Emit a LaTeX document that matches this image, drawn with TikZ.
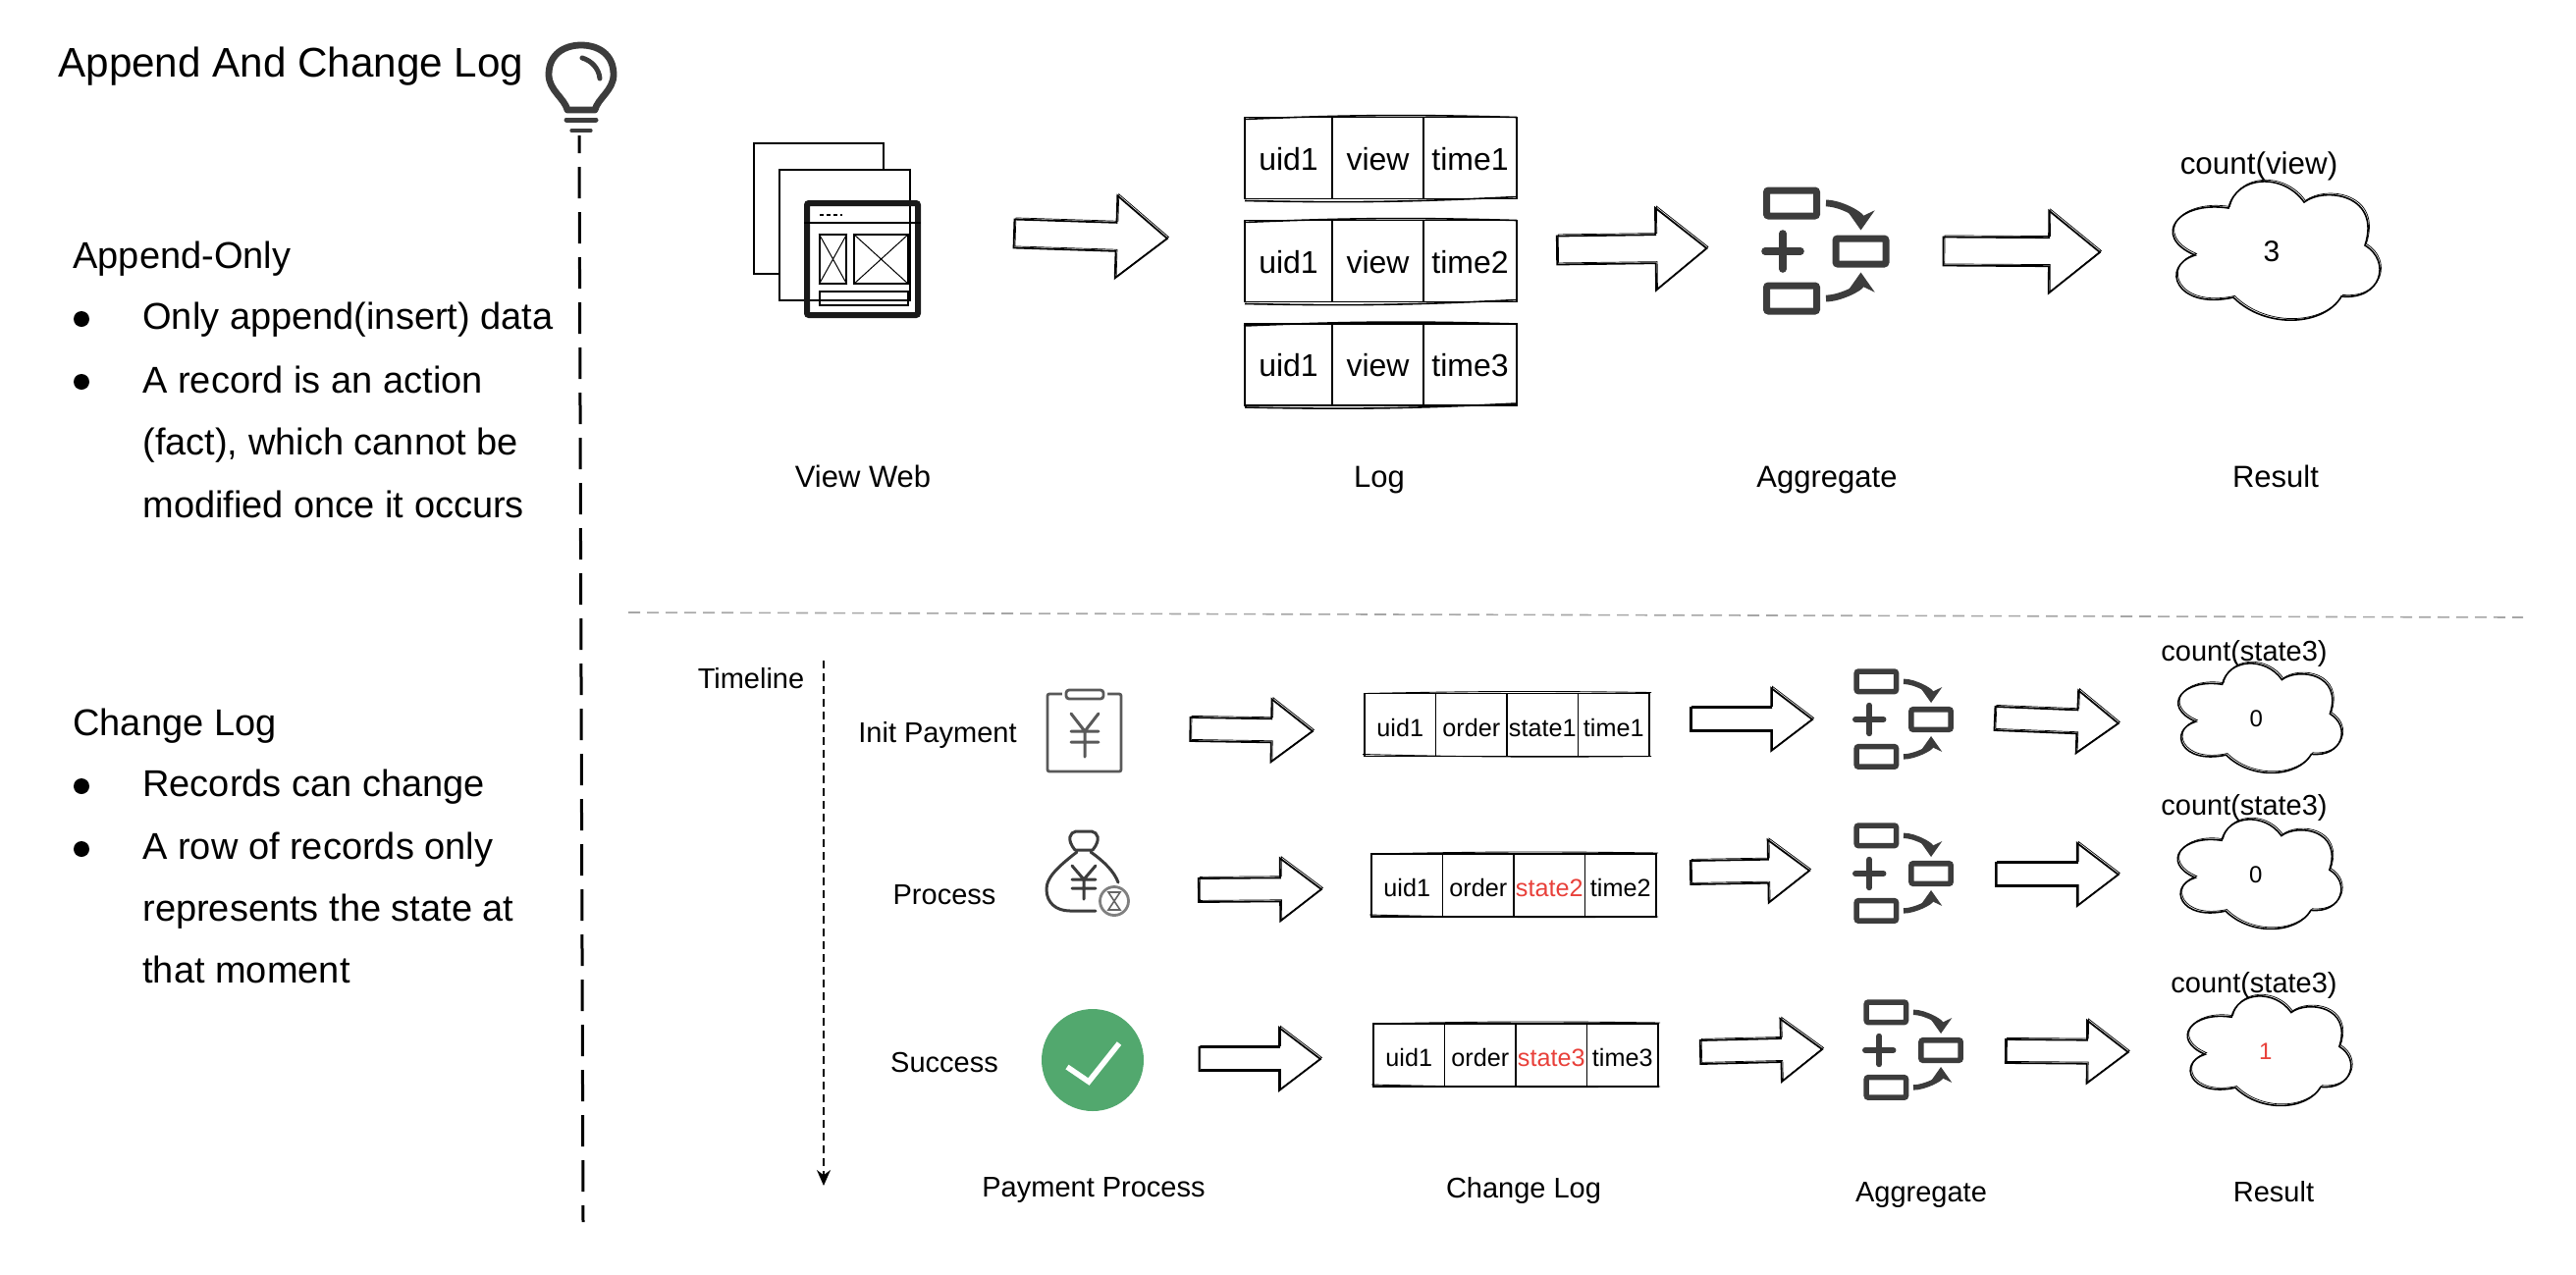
\documentclass[tikz,border=0pt]{standalone}
\usepackage{fontspec}
\usepackage{xcolor}
\setmainfont{Liberation Sans}
\usetikzlibrary{arrows.meta,calc,positioning}
\definecolor{iconink}{HTML}{3C3C3C}
\definecolor{statered}{HTML}{E8403A}
\definecolor{okgreen}{HTML}{52A86E}

\begin{document}
\begin{tikzpicture}[
            x=0.5pt, y=-0.5pt,
            title/.style={anchor=base west, inner sep=0pt, font=\fontsize{21.1}{25}\selectfont},
            bodytext/.style={anchor=base west, inner sep=0pt, font=\fontsize{19}{23}\selectfont},
            dotmark/.style={circle, fill=black, inner sep=0pt, minimum size=8pt},
            caption/.style={inner sep=0pt, text height=1.31em, text depth=0.2em, font=\fontsize{15.5}{18}\selectfont},
            smallcaption/.style={inner sep=0pt, text height=1.26em, text depth=0.2em, font=\fontsize{14.5}{17}\selectfont},
            viewcell/.style={draw, line width=0.8pt, inner sep=0pt, outer sep=0pt, minimum height=41.5pt, text height=1.41em, text depth=0.2em, font=\fontsize{16}{19}\selectfont},
            statecell/.style={draw, line width=0.8pt, inner sep=0pt, outer sep=0pt, minimum width=36.25pt, minimum height=32pt, text height=1.38em, text depth=0.2em, font=\fontsize{12.6}{16}\selectfont},
            sketchline/.style={line width=0.8pt},
            sketchy/.style={preaction={draw, line width=0.35pt, transform canvas={shift={(0.7pt,0.8pt)}}}},
            blockarrow/.style n args={3}{line width=0.9pt, line join=miter, sketchy, to path={
                let \p1=($(\tikztotarget)!#3!(\tikztostart)$) in
                ($(\tikztostart)!#1!90:(\tikztotarget)$) -- ($(\p1)!#1!90:(\tikztotarget)$) -- ($(\p1)!#2!90:(\tikztotarget)$) -- (\tikztotarget)
                -- ($(\p1)!#2!-90:(\tikztotarget)$) -- ($(\p1)!#1!-90:(\tikztotarget)$) -- ($(\tikztostart)!#1!-90:(\tikztotarget)$) -- cycle}},
            bigarrow/.style={blockarrow={7.25pt}{21pt}{26pt}},
            smallarrow/.style={blockarrow={6pt}{16pt}{21pt}},
            iconline/.style={draw=iconink, line width=1.5pt, line cap=round, line join=round},
            pics/viewrow/.style n args={3}{code={
                \node[viewcell, minimum width=44.5pt, anchor=west] (uid) at (0,0) {#1};
                \node[viewcell, minimum width=46.5pt, right=0pt of uid] (act) {#2};
                \node[viewcell, minimum width=47.5pt, right=0pt of act] (time) {#3};
                \draw[sketchline] ([xshift=-0.5pt,yshift=-1pt]uid.north west) to[bend left=2] (time.north east);
                \draw[sketchline] ([yshift=-1pt]uid.south west) to[bend right=2] ([yshift=1pt]time.south east);
            }},
            pics/staterow/.style n args={4}{code={
                \node[statecell, anchor=west] (uid) at (0,0) {#1};
                \node[statecell, right=0pt of uid] (act) {#2};
                \node[statecell, right=0pt of act] (state) {#3};
                \node[statecell, right=0pt of state] (time) {#4};
                \draw[line width=0.45pt] ([xshift=-1pt,yshift=1pt]uid.south west) to[bend right=1] ([xshift=1pt]time.south east);
                \draw[line width=0.45pt] (uid.north west) to[bend left=1] ([xshift=1pt,yshift=0.5pt]time.north east);
            }},
            pics/aggregate/.style={code={
                \node[draw=iconink, line width=3.5pt*#1, rounded corners=1pt, inner sep=0pt, minimum width=25.5pt*#1, minimum height=13pt*#1] (top) at (#1*-35,#1*-49) {};
                \node[draw=iconink, line width=3.5pt*#1, rounded corners=1pt, inner sep=0pt, minimum width=25.5pt*#1, minimum height=13pt*#1] (mid) at (#1*35.5,0) {};
                \node[draw=iconink, line width=3.5pt*#1, rounded corners=1pt, inner sep=0pt, minimum width=25.5pt*#1, minimum height=13pt*#1] (bot) at (#1*-35,#1*48) {};
                \draw[draw=iconink, line width=3.8pt*#1, line cap=round] (#1*-44,#1*-18) -- (#1*-44,#1*18) (#1*-62,0) -- (#1*-26,0);
                \draw[draw=iconink, line width=3.4pt*#1, -{Stealth[length=10pt,width=14pt,scale=#1]}, shorten <=3pt*#1, shorten >=2.5pt*#1] (top.east) to[out=0,in=90] (mid.north);
                \draw[draw=iconink, line width=3.4pt*#1, -{Stealth[length=10pt,width=14pt,scale=#1]}, shorten <=3pt*#1, shorten >=2.5pt*#1] (bot.east) to[out=0,in=-90] (mid.south);
            }},
            pics/cloudmark/.style n args={3}{code={
                \draw[line width=0.8pt, sketchy, scale=#1] (29,-50) .. controls (50,-66) and (108,-58) .. (91,-6)
                    .. controls (118,10) and (108,50) .. (67,46) .. controls (50,76) and (-10,80) .. (-43,47)
                    .. controls (-102,60) and (-118,15) .. (-82,4) .. controls (-127,-15) and (-100,-52) .. (-48,-44)
                    .. controls (-40,-78) and (8,-80) .. (29,-50) -- cycle;
                \node[inner sep=0pt, text=#3, font=\fontsize{12}{14}\selectfont] (val) at (#1*-4,0) {#2};
            }}
        ]
            \useasboundingbox (0,0) rectangle (2624,1298);

            % Left column
            \node[title] (maintitle) at (59,78) {Append And Change Log};
            \node[bodytext] (appendhead) at (74,273.5) {Append-Only};
            \node[dotmark] (dota) at (83,325) {};
            \node[bodytext] (appenda) at (145,335.5) {Only append(insert) data};
            \node[dotmark] (dotb) at (83,389) {};
            \node[bodytext] (appendb) at (145,400) {A record is an action};
            \node[bodytext] (appendc) at (145,463.5) {(fact), which cannot be};
            \node[bodytext] (appendd) at (145,527) {modified once it occurs};
            \node[bodytext] (changehead) at (74,749) {Change Log};
            \node[dotmark] (dotc) at (83,801) {};
            \node[bodytext] (changea) at (145,811.5) {Records can change};
            \node[dotmark] (dotd) at (83,865) {};
            \node[bodytext] (changeb) at (145,875) {A row of records only};
            \node[bodytext] (changec) at (145,938.5) {represents the state at};
            \node[bodytext] (changed) at (145,1001.5) {that moment};

            % Bulb and vertical line
            \draw[draw=iconink, line width=3.4pt, line join=round] (578,112) .. controls (575,100) and (559,92) .. (559,76) .. controls (559,55) and (575,46) .. (592,46) .. controls (609,46) and (625,55) .. (625,76) .. controls (625,92) and (609,100) .. (606,112) -- cycle;
            \draw[draw=iconink, line width=2.5pt, line cap=round] (593,59) .. controls (603,62) and (610,70) .. (611,80);
            \draw[draw=iconink, line width=2.5pt, line cap=round] (577,122) -- (607,122);
            \draw[draw=iconink, line width=1.6pt, line cap=round] (582,133) -- (602,133);
            \coordinate (axistop) at (590,138);
            \coordinate (axisend) at (594,1245);
            \draw[line width=1.5pt, dash pattern=on 16pt off 7pt, dash phase=7pt] (axistop) -- (axisend);

            % Separator
            \coordinate (sepleft) at (640,624);
            \coordinate (sepright) at (2570,629);
            \draw[draw=black!35, line width=0.8pt, dash pattern=on 6pt off 3.5pt] (sepleft) -- (sepright);

            % View web pages
            \node[draw, line width=0.8pt, minimum width=66pt, minimum height=66.5pt, inner sep=0pt] (pageback) at (834,212.5) {};
            \node[draw, fill=white, line width=0.8pt, minimum width=66.5pt, minimum height=66.5pt, inner sep=0pt] (pagefront) at (860.5,239.5) {};
            \node[draw=black!90, line width=3pt, rounded corners=1pt, minimum width=56.5pt, minimum height=57pt, inner sep=0pt] (window) at (878.5,264) {};
            \draw[line width=0.7pt] (window.west |- 0,227) -- (window.east |- 0,227);
            \draw[line width=1.2pt, dash pattern=on 2pt off 1.5pt] (835,219) -- (858,219);
            \node[draw, line width=0.8pt, minimum width=13.5pt, minimum height=25pt, inner sep=0pt] (thumb) at (848.5,264) {};
            \draw[line width=0.5pt] (thumb.north west) -- (thumb.south east) (thumb.north east) -- (thumb.south west);
            \node[draw, line width=0.8pt, minimum width=27.5pt, minimum height=25pt, inner sep=0pt] (image) at (897.5,264) {};
            \draw[line width=0.5pt] (image.north west) -- (image.south east) (image.north east) -- (image.south west);
            \node[draw, line width=0.8pt, minimum width=45pt, minimum height=7pt, inner sep=0pt] (footer) at (880,304) {};

            % Append-only rows
            \pic (loga) at (1268,161) {viewrow={uid1}{view}{time1}};
            \pic (logb) at (1268,266) {viewrow={uid1}{view}{time2}};
            \pic (logc) at (1268,371.5) {viewrow={uid1}{view}{time3}};
            \pic (aggtop) at (1860,256) {aggregate=1};
            \pic (cloudtop) at (2318,256) {cloudmark={1}{\fontsize{15}{18}\selectfont 3}{black}};
            \node[smallcaption, font=\fontsize{15.7}{18}\selectfont] (countview) at (2301,167) {count(view)};

            \draw[bigarrow] ([shift={(95,-26)}]window.east) to ([shift={(-79,-23)}]logbuid.west);
            \draw[bigarrow] ([shift={(41,-11)}]logbtime.east) to ([shift={(-128,-3)}]aggtopmid.west);
            \draw[bigarrow] ([shift={(55,0)}]aggtopmid.east) to ([shift={(-175,1)}]cloudtopval.center);

            \node[caption] (capweb) at (879,485) {View Web};
            \node[caption] (caplog) at (1405,485) {Log};
            \node[caption] (capagg) at (1861,485) {Aggregate};
            \node[caption] (capres) at (2318,485) {Result};

            % Timeline
            \node[smallcaption] (timeline) at (765,691) {Timeline};
            \coordinate (timetop) at (839,673);
            \coordinate (timeend) at (839,1208);
            \draw[line width=0.8pt, dash pattern=on 4pt off 2.5pt, -{Stealth[length=8pt,width=7pt]}] (timetop) -- (timeend);

            % Init payment row
            \node[smallcaption] (initlabel) at (955,746) {Init Payment};
            \node[draw=iconink!85, line width=1.4pt, minimum width=37.5pt, minimum height=39.5pt, inner sep=0pt, rounded corners=1pt] (clipboard) at (1104.5,746.5) {};
            \node[draw=iconink!85, fill=white, line width=1.4pt, rounded corners=1.5pt, preaction={draw=white, line width=4pt}, minimum width=19pt, minimum height=4.5pt, inner sep=0pt] (cliptab) at (1105,707.5) {};
            \draw[iconline, draw=iconink!85] (1091,727) -- (1105,745) -- (1119,727) (1091,745) -- (1119,745) (1091,756) -- (1119,756) (1105,745) -- (1105,771);
            \pic (statea) at (1390,738.5) {staterow={uid1}{order}{state1}{time1}};
            \pic (agga) at (1939,733) {aggregate=0.79};
            \pic (clouda) at (2301.5,732) {cloudmark={0.79}{0}{black}};
            \node[smallcaption] (counta) at (2286,663) {count(state3)};
            \draw[smallarrow] ([shift={(69,-3.5)}]clipboard.east) to ([shift={(-53,6.5)}]stateauid.west);
            \draw[smallarrow] ([shift={(42,-5.5)}]stateatime.east) to ([shift={(-98,0)}]aggamid.west);
            \draw[smallarrow] ([shift={(42,-1)}]aggamid.east) to ([shift={(-140.5,5)}]cloudaval.center);

            % Process row
            \node[smallcaption] (processlabel) at (962,911) {Process};
            \draw[iconline] (1097,868) .. controls (1075,885) and (1066,895) .. (1066,906) .. controls (1066,920) and (1076,928) .. (1090,928) -- (1116,928);
            \draw[iconline] (1111,868) .. controls (1125,878) and (1135,888) .. (1139,899);
            \draw[iconline] (1095,866) -- (1113,866) (1095,866) .. controls (1086,855) and (1090,848) .. (1096,847) -- (1112,847) .. controls (1118,848) and (1122,855) .. (1113,866);
            \draw[iconline] (1092,882) -- (1104,896) -- (1116,882) (1092,896) -- (1116,896) (1092,905) -- (1116,905) (1104,896) -- (1104,916);
            \node[circle, draw=black!50, line width=1.4pt, minimum size=14.5pt, inner sep=0pt] (bagclock) at (1135,918) {};
            \draw[draw=black!60, line width=0.8pt] (1129,909) -- (1141,909) -- (1129,927) -- (1141,927) -- cycle;
            \pic (stateb) at (1397,902) {staterow={uid1}{order}{\textcolor{statered}{state2}}{time2}};
            \pic (aggb) at (1939,890) {aggregate=0.79};
            \pic (cloudb) at (2301,891) {cloudmark={0.79}{0}{black}};
            \node[smallcaption] (countb) at (2286,820) {count(state3)};
            \draw[smallarrow] ([shift={(70,-11)}]bagclock.east) to ([shift={(-51,4)}]statebuid.west);
            \draw[smallarrow] ([shift={(35,-13)}]statebtime.east) to ([shift={(-101,-3)}]aggbmid.west);
            \draw[smallarrow] ([shift={(43,1)}]aggbmid.east) to ([shift={(-140,0)}]cloudbval.center);

            % Success row
            \node[smallcaption] (successlabel) at (962,1082) {Success};
            \node[circle, fill=okgreen, minimum size=52pt, inner sep=0pt] (okmark) at (1113,1080) {};
            \draw[draw=white, line width=2.8pt] (1087,1087) -- (1109,1102) -- (1140,1063);
            \pic (statec) at (1399,1075) {staterow={uid1}{order}{\textcolor{statered}{state3}}{time3}};
            \pic (aggc) at (1949,1070) {aggregate=0.79};
            \pic (cloudc) at (2311,1071) {cloudmark={0.79}{1}{statered}};
            \node[smallcaption] (countc) at (2296,1001) {count(state3)};
            \draw[smallarrow] ([shift={(56,-1)}]okmark.east) to ([shift={(-54,4)}]statecuid.west);
            \draw[smallarrow] ([shift={(43,-3)}]statectime.east) to ([shift={(-98,-1)}]aggcmid.west);
            \draw[smallarrow] ([shift={(43,1)}]aggcmid.east) to ([shift={(-140,1)}]cloudcval.center);

            % Bottom captions
            \node[smallcaption] (cappay) at (1114,1209) {Payment Process};
            \node[smallcaption] (capchange) at (1552,1210) {Change Log};
            \node[smallcaption] (capaggb) at (1957,1214) {Aggregate};
            \node[smallcaption] (capresb) at (2316,1214) {Result};
        \end{tikzpicture}
\end{document}
